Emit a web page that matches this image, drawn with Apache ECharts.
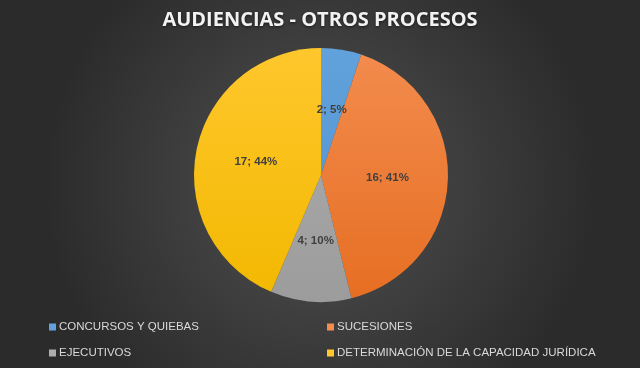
<!DOCTYPE html>
<html><head><meta charset="utf-8">
<script src="https://cdn.jsdelivr.net/npm/echarts@6/dist/echarts.min.js"></script>
<style>html,body{margin:0;padding:0;background:#3a3a3a}#c{width:640px;height:368px}</style>
</head><body><div id="c"></div>
<script>
const titleText = 'AUDIENCIAS - OTROS PROCESOS';
const categories = ['CONCURSOS Y QUIEBAS', 'SUCESIONES', 'EJECUTIVOS', 'DETERMINACIÓN DE LA CAPACIDAD JURÍDICA'];
const values = [2, 16, 4, 17];
const colorsTop = ['#62A2DC', '#F38C4E', '#AEAEAE', '#FFC72C'];
const colorsBottom = ['#4F8FCB', '#E66E22', '#9C9C9C', '#F2B800'];
const baseColors = ['#5B9BD5', '#ED7D31', '#A5A5A5', '#FFC000'];

const chart = echarts.init(document.getElementById('c'), null, {renderer: 'canvas'});
const data = categories.map((n, i) => ({
  name: n, value: values[i],
  itemStyle: {color: {type: 'linear', x: 0, y: 48, x2: 0, y2: 302, global: true,
    colorStops: [{offset: 0, color: colorsTop[i]}, {offset: 1, color: colorsBottom[i]}]}}
}));
const legendText = {color: '#d9d9d9', fontFamily: 'Liberation Sans', fontSize: 11.5, padding: [0,0,0,-2]};
chart.setOption({
  backgroundColor: {type: 'radial', x: 0.5, y: 0.5, r: 0.75,
    colorStops: [{offset: 0, color: '#515151'}, {offset: 1, color: '#2b2b2b'}]},
  color: baseColors,
  title: {text: titleText, left: 'center', top: 5,
    textStyle: {color: '#f2f2f2', fontFamily: 'Open Sans', fontWeight: 'bold', fontSize: 20,
      textShadowColor: 'rgba(0,0,0,0.6)', textShadowBlur: 3, textShadowOffsetY: 1}},
  legend: [
    {left: 49, top: 321, padding: 0, orient: 'vertical', itemGap: 14, itemWidth: 7, itemHeight: 7, icon: 'rect',
     data: [categories[0], categories[2]], textStyle: legendText},
    {left: 327, top: 321, padding: 0, orient: 'vertical', itemGap: 14, itemWidth: 7, itemHeight: 7, icon: 'rect',
     data: [categories[1], categories[3]], textStyle: legendText}
  ],
  series: [{
    type: 'pie', center: [321, 175], radius: [0, 127], startAngle: 90, clockwise: true,
    animation: false,
    label: {show: true, position: 'inside', formatter: p => p.value + '; ' + Math.round(p.percent) + '%',
      color: '#404040', fontWeight: 'bold', fontSize: 11.5, fontFamily: 'Liberation Sans'},
    labelLine: {show: false},
    itemStyle: {borderWidth: 0},
    emphasis: {disabled: true},
    data: data
  }]
});
</script></body></html>
